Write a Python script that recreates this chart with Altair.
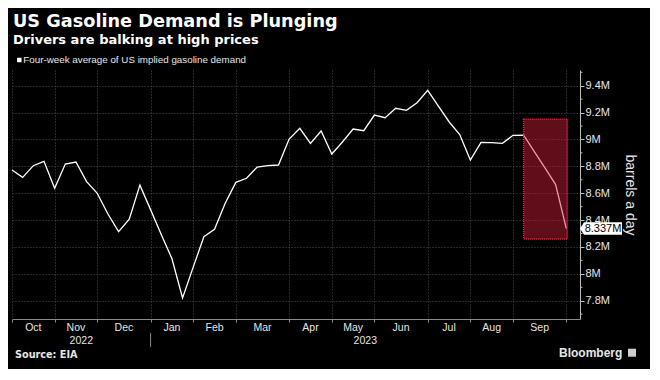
import altair as alt
import pandas as pd

# ---------------- data ----------------
start_date = "2022-09-30"
n_weeks = 53
demand = [8.773, 8.718, 8.805, 8.837, 8.637, 8.817, 8.832, 8.686, 8.599, 8.445,
          8.314, 8.406, 8.660, 8.478, 8.292, 8.114, 7.820, 8.050, 8.276, 8.332,
          8.525, 8.681, 8.711, 8.795, 8.805, 8.810, 9.003, 9.083, 8.971, 9.063,
          8.892, 8.981, 9.078, 9.065, 9.182, 9.162, 9.232, 9.217, 9.274, 9.366,
          9.249, 9.132, 9.037, 8.847, 8.979, 8.976, 8.971, 9.031, 9.033, 8.910,
          8.789, 8.664, 8.337]
last_label = "8.337M"

grid_dates = ["2022-09-30", "2022-10-28", "2022-11-25", "2022-12-30", "2023-01-27",
              "2023-02-24", "2023-03-31", "2023-04-28", "2023-05-26", "2023-06-30",
              "2023-07-28", "2023-08-25", "2023-09-29"]
month_names = ["Oct", "Nov", "Dec", "Jan", "Feb", "Mar", "Apr", "May", "Jun",
               "Jul", "Aug", "Sep"]
years = ["2022", "2023"]
year_bounds = [["2022-09-30", "2022-12-30"], ["2022-12-30", "2023-10-08"]]
year_sep = "2022-12-30"

y_ticks = [7.8, 8.0, 8.2, 8.4, 8.6, 8.8, 9.0, 9.2, 9.4]
y_minor = [7.7, 7.9, 8.1, 8.3, 8.5, 8.7, 8.9, 9.1, 9.3, 9.5]
x_domain = ["2022-09-30", "2023-10-08"]
y_domain = [7.664, 9.517]

hl_x = ["2023-09-01", "2023-09-29T18:00:00"]
hl_y = [8.26, 9.15]

title = "US Gasoline Demand is Plunging"
subtitle = "Drivers are balking at high prices"
legend_label = "Four-week average of US implied gasoline demand"
source = "Source: EIA"
y_title = "barrels a day"


def ms(s):
    return int(pd.Timestamp(s, tz="UTC").value // 10**6)


dates = [ms(d) for d in pd.date_range(start_date, periods=n_weeks, freq="7D")]
df = pd.DataFrame({"date": dates, "value": demand})

grid_ms = [ms(d) for d in grid_dates]
months_df = pd.DataFrame({
    "date": [(grid_ms[i] + grid_ms[i + 1]) / 2 for i in range(len(month_names))],
    "label": month_names,
})
years_df = pd.DataFrame({
    "date": [(ms(a) + ms(b)) / 2 for a, b in year_bounds],
    "label": years,
})
sep_df = pd.DataFrame({"date": [ms(year_sep)]})
minor_df = pd.DataFrame({"value": y_minor})
hl_df = pd.DataFrame({"date": [ms(hl_x[0])], "date2": [ms(hl_x[1])],
                      "value": [hl_y[0]], "value2": [hl_y[1]]})
last_df = pd.DataFrame({"value": [demand[-1]], "label": [last_label]})

W, H = 568, 249
FONT = "Liberation Sans"
GRID = "#4d4d4d"

xscale = alt.Scale(type="utc", domain=[ms(x_domain[0]), ms(x_domain[1])], nice=False)
yscale = alt.Scale(domain=y_domain, nice=False, zero=False)

x_axis = alt.Axis(values=grid_ms, labels=False, title=None, grid=True,
                  gridColor=GRID, gridDash=[1, 2], gridWidth=1,
                  domainColor="#8a8a8a", tickColor="#8a8a8a", tickSize=3)
y_axis = alt.Axis(orient="right", values=y_ticks, grid=True,
                  gridColor=GRID, gridDash=[1, 2],
                  labelExpr="format(datum.value, '.1~f') + 'M'",
                  labelOverlap=False, labelFlush=False,
                  labelColor="#e6e6e6", labelFont=FONT, labelFontSize=11,
                  labelPadding=1, tickSize=4, tickColor="#bdbdbd",
                  domainColor="#bdbdbd",
                  title=y_title, titleAngle=90, titleFont=FONT,
                  titleFontSize=14, titleFontWeight="normal",
                  titleColor="#e6e6e6", titleX=49, titleY=H / 2,
                  titleAlign="center", titleBaseline="middle")

X = alt.X("date:T", scale=xscale, axis=x_axis, title=None)
Y = alt.Y("value:Q", scale=yscale, axis=y_axis, title=y_title)

line = alt.Chart(df).mark_line(color="#ffffff", strokeWidth=1.3).encode(x=X, y=Y)

hl = alt.Chart(hl_df).mark_rect(
    color="#d81e3c", fillOpacity=0.45, stroke="#ee2244", strokeWidth=1.5,
    strokeDash=[1, 1], strokeOpacity=1
).encode(x=X, x2="date2:T", y=Y, y2="value2:Q")

minor = alt.Chart(minor_df).mark_rule(color="#bdbdbd").encode(
    y=Y, x=alt.value(W), x2=alt.value(W + 2.5)
)

months = alt.Chart(months_df).mark_text(
    color="#e6e6e6", font=FONT, fontSize=10.5, baseline="alphabetic", align="center"
).encode(x=X, y=alt.value(H + 12), text="label:N")

yrs = alt.Chart(years_df).mark_text(
    color="#e6e6e6", font=FONT, fontSize=10.5, baseline="alphabetic", align="center"
).encode(x=X, y=alt.value(H + 25.3), text="label:N")

sep = alt.Chart(sep_df).mark_rule(color="#8a8a8a").encode(
    x=X, y=alt.value(H + 14), y2=alt.value(H + 28)
)

box = alt.Chart(last_df).mark_point(
    shape="M-1,0 L-0.81,-0.295 L1,-0.295 L1,0.295 L-0.81,0.295 Z",
    filled=True, color="#ffffff", opacity=1, size=1764
).encode(x=alt.value(W + 21), y=Y)

box_text = alt.Chart(last_df).mark_text(
    color="#000000", font=FONT, fontSize=11, align="center", baseline="middle"
).encode(x=alt.value(W + 23), y=Y, text="label:N")

one = pd.DataFrame({"k": [0]})


def label(txt, x, y, size, weight="normal", font=FONT, color="#ffffff",
          baseline="alphabetic"):
    return alt.Chart(one).mark_text(
        text=txt, font=font, fontSize=size, fontWeight=weight, color=color,
        align="left", baseline=baseline
    ).encode(x=alt.value(x), y=alt.value(y))


t1 = label(title, 1, -43, 17.7, "bold", "DejaVu Sans")
t2 = label(subtitle, 1, -26.5, 13.0, "bold", "DejaVu Sans")
leg_sq = alt.Chart(one).mark_square(color="#ffffff", size=20, opacity=1).encode(
    x=alt.value(7.3), y=alt.value(-10))
leg_t = label(legend_label, 11.3, -10, 9.8, color="#e6e6e6", baseline="middle")
src = label(source, 3, 287.7, 9.7, "bold", "DejaVu Sans", color="#e6e6e6")
bbg = label("Bloomberg", 547, 282.7, 12, "bold", FONT, color="#e6e6e6",
            baseline="middle")
logo = alt.Chart(one).mark_square(color="#cfcfcf", size=64, opacity=1).encode(
    x=alt.value(620), y=alt.value(282.7))

chart = alt.layer(
    line, hl, minor, months, yrs, sep, box, box_text,
    t1, t2, leg_sq, leg_t, src, bbg, logo
).properties(
    width=W, height=H,
    autosize=alt.AutoSizeParams(type="none"),
    padding={"left": 4, "top": 62, "right": 70, "bottom": 50},
    background="#000000",
).configure_view(stroke=None)

chart.save("out.html", embed_options={"renderer": "svg", "actions": False})
